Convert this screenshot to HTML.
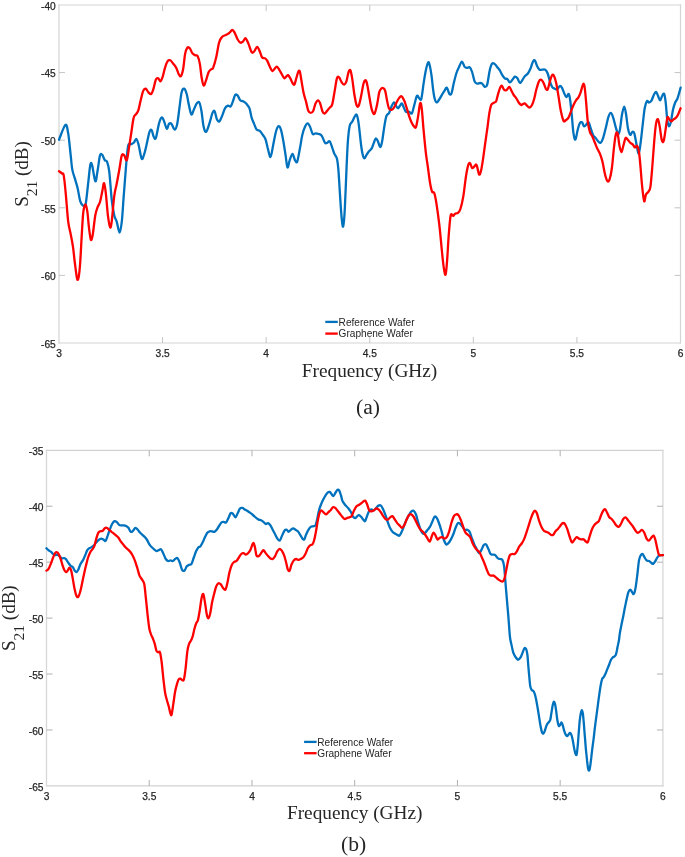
<!DOCTYPE html>
<html><head><meta charset="utf-8"><style>
html,body{margin:0;padding:0;background:#fff;}
body{width:685px;height:857px;overflow:hidden;}
svg{display:block;filter:blur(0.35px);}
.tl{font-family:"Liberation Sans",sans-serif;font-size:10.2px;fill:#262626;stroke:#262626;stroke-width:0.25px;}
.lg{font-family:"Liberation Sans",sans-serif;font-size:10.1px;fill:#262626;}
.ax{font-family:"Liberation Serif",serif;font-size:20px;fill:#262626;}
</style></head><body>
<svg width="685" height="857" viewBox="0 0 685 857">
<path d="M58.4,5H681.1M58.4,343H681.1" fill="none" stroke="#d4d4d4" stroke-width="1.2"/>
<path d="M59,4.4V343.6M680.5,4.4V343.6" fill="none" stroke="#d4d4d4" stroke-width="1.2"/>
<text x="59.00" y="356.8" text-anchor="middle" class="tl">3</text>
<line x1="162.58" y1="343" x2="162.58" y2="337" stroke="#c4c4c4" stroke-width="1"/>
<line x1="162.58" y1="5" x2="162.58" y2="11" stroke="#c4c4c4" stroke-width="1"/>
<text x="162.58" y="356.8" text-anchor="middle" class="tl">3.5</text>
<line x1="266.17" y1="343" x2="266.17" y2="337" stroke="#c4c4c4" stroke-width="1"/>
<line x1="266.17" y1="5" x2="266.17" y2="11" stroke="#c4c4c4" stroke-width="1"/>
<text x="266.17" y="356.8" text-anchor="middle" class="tl">4</text>
<line x1="369.75" y1="343" x2="369.75" y2="337" stroke="#c4c4c4" stroke-width="1"/>
<line x1="369.75" y1="5" x2="369.75" y2="11" stroke="#c4c4c4" stroke-width="1"/>
<text x="369.75" y="356.8" text-anchor="middle" class="tl">4.5</text>
<line x1="473.33" y1="343" x2="473.33" y2="337" stroke="#c4c4c4" stroke-width="1"/>
<line x1="473.33" y1="5" x2="473.33" y2="11" stroke="#c4c4c4" stroke-width="1"/>
<text x="473.33" y="356.8" text-anchor="middle" class="tl">5</text>
<line x1="576.92" y1="343" x2="576.92" y2="337" stroke="#c4c4c4" stroke-width="1"/>
<line x1="576.92" y1="5" x2="576.92" y2="11" stroke="#c4c4c4" stroke-width="1"/>
<text x="576.92" y="356.8" text-anchor="middle" class="tl">5.5</text>
<text x="680.50" y="356.8" text-anchor="middle" class="tl">6</text>
<text x="55.8" y="9.70" text-anchor="end" class="tl">-40</text>
<line x1="59" y1="72.60" x2="65" y2="72.60" stroke="#c4c4c4" stroke-width="1"/>
<line x1="680.5" y1="72.60" x2="674.5" y2="72.60" stroke="#c4c4c4" stroke-width="1"/>
<text x="55.8" y="77.30" text-anchor="end" class="tl">-45</text>
<line x1="59" y1="140.20" x2="65" y2="140.20" stroke="#c4c4c4" stroke-width="1"/>
<line x1="680.5" y1="140.20" x2="674.5" y2="140.20" stroke="#c4c4c4" stroke-width="1"/>
<text x="55.8" y="144.90" text-anchor="end" class="tl">-50</text>
<line x1="59" y1="207.80" x2="65" y2="207.80" stroke="#c4c4c4" stroke-width="1"/>
<line x1="680.5" y1="207.80" x2="674.5" y2="207.80" stroke="#c4c4c4" stroke-width="1"/>
<text x="55.8" y="212.50" text-anchor="end" class="tl">-55</text>
<line x1="59" y1="275.40" x2="65" y2="275.40" stroke="#c4c4c4" stroke-width="1"/>
<line x1="680.5" y1="275.40" x2="674.5" y2="275.40" stroke="#c4c4c4" stroke-width="1"/>
<text x="55.8" y="280.10" text-anchor="end" class="tl">-60</text>
<text x="55.8" y="347.70" text-anchor="end" class="tl">-65</text>
<path d="M59.0,139.7C60.1,137.2 63.9,126.0 65.4,124.9C66.9,123.9 67.3,128.3 68.2,133.4C69.1,138.5 70.0,149.4 70.7,155.4C71.4,161.4 71.5,165.4 72.3,169.6C73.1,173.8 74.6,177.4 75.5,180.6C76.4,183.8 76.9,185.1 77.7,188.5C78.5,191.9 79.3,198.2 80.2,201.1C81.1,204.0 82.4,205.3 83.3,205.8C84.2,206.3 84.8,208.0 85.6,204.3C86.4,200.6 87.3,190.4 88.1,183.8C88.9,177.2 89.6,168.0 90.3,164.9C91.0,161.8 91.4,162.8 92.2,165.5C93.0,168.2 94.4,180.4 95.3,181.3C96.2,182.2 96.7,175.5 97.5,171.2C98.3,166.9 99.2,158.1 100.0,155.4C100.8,152.7 101.4,154.0 102.2,154.8C103.0,155.6 104.0,159.0 104.8,160.2C105.6,161.3 106.3,159.9 107.0,161.7C107.7,163.5 108.4,164.9 109.2,171.2C110.0,177.5 110.9,192.2 111.7,199.5C112.5,206.8 113.4,211.6 114.2,215.3C115.0,219.0 115.8,218.7 116.7,221.6C117.6,224.5 118.8,232.6 119.6,232.6C120.4,232.6 121.1,227.6 121.8,221.6C122.5,215.6 123.0,205.3 123.7,196.4C124.4,187.5 125.2,176.4 125.9,168.0C126.6,159.6 127.3,149.9 128.1,146.0C128.9,142.1 129.7,144.9 130.6,144.4C131.5,143.9 132.8,143.7 133.7,142.8C134.6,141.9 135.5,138.7 136.3,139.0C137.1,139.3 137.6,141.1 138.5,144.4C139.4,147.7 140.7,156.8 141.6,158.6C142.5,160.4 143.0,157.5 143.8,155.4C144.6,153.3 145.4,149.9 146.3,146.0C147.2,142.1 148.6,134.4 149.5,131.8C150.4,129.2 151.0,129.4 151.7,130.2C152.4,131.0 152.9,135.2 153.6,136.5C154.3,137.8 154.9,140.2 155.8,138.1C156.7,136.0 158.0,127.3 158.9,123.9C159.8,120.5 160.7,118.2 161.5,117.6C162.3,117.0 162.8,118.4 163.7,120.2C164.6,122.0 165.9,128.1 166.8,128.7C167.7,129.3 168.2,124.7 169.0,123.9C169.8,123.1 170.6,123.0 171.5,123.9C172.4,124.9 173.8,129.6 174.7,129.6C175.6,129.6 176.4,127.5 177.2,123.9C178.0,120.3 178.7,113.5 179.4,108.2C180.1,103.0 180.8,95.7 181.6,92.4C182.4,89.2 183.2,88.4 184.1,88.7C184.9,89.0 185.9,91.3 186.7,94.0C187.5,96.7 188.1,101.6 188.9,105.0C189.7,108.4 190.5,113.9 191.4,114.5C192.3,115.1 193.3,110.6 194.2,108.8C195.1,107.0 195.8,104.5 196.7,103.5C197.5,102.5 198.5,101.2 199.3,102.5C200.1,103.8 200.8,107.2 201.5,111.3C202.2,115.4 202.9,123.7 203.7,127.1C204.5,130.5 205.3,132.3 206.2,131.8C207.1,131.3 208.2,127.1 209.3,123.9C210.4,120.8 211.6,115.0 212.5,112.9C213.4,110.8 214.0,110.2 214.7,111.3C215.4,112.3 216.1,117.5 216.9,119.2C217.7,120.9 218.6,121.9 219.4,121.4C220.2,120.9 221.1,118.3 222.0,116.1C222.9,113.9 224.1,109.9 225.1,108.2C226.1,106.5 227.1,106.0 228.0,105.7C228.9,105.4 229.7,107.2 230.5,106.6C231.3,106.0 231.9,103.8 232.7,101.9C233.5,100.0 234.4,96.0 235.2,95.0C236.0,94.0 236.9,94.7 237.7,95.6C238.5,96.5 239.3,99.3 240.2,100.3C241.1,101.2 242.1,100.8 243.1,101.3C244.1,101.8 245.1,102.3 246.2,103.5C247.2,104.7 248.5,105.9 249.4,108.2C250.3,110.5 250.8,115.0 251.6,117.6C252.4,120.2 253.3,121.9 254.1,123.9C254.9,125.9 255.7,128.4 256.6,129.6C257.6,130.8 258.8,130.0 259.8,130.9C260.9,131.8 262.0,133.7 262.9,135.0C263.8,136.3 264.6,136.9 265.4,139.0C266.2,141.1 266.8,144.6 267.6,147.6C268.5,150.6 269.6,157.3 270.5,157.0C271.4,156.7 272.2,149.9 273.0,146.0C273.8,142.1 274.7,136.7 275.5,133.4C276.3,130.2 277.1,127.3 278.0,126.5C278.9,125.7 279.8,126.5 280.6,128.7C281.5,130.9 282.3,135.2 283.1,139.7C283.9,144.1 284.9,150.8 285.6,155.4C286.3,160.0 286.8,166.6 287.5,167.4C288.2,168.2 288.9,162.4 289.7,160.2C290.5,157.9 291.6,153.9 292.5,153.9C293.4,153.9 294.2,158.9 295.0,160.2C295.8,161.5 296.4,163.5 297.2,161.7C298.0,159.8 298.9,153.5 299.8,149.1C300.7,144.7 301.4,138.8 302.3,135.0C303.2,131.2 304.2,128.4 305.1,126.5C306.0,124.5 306.8,123.2 307.6,123.3C308.5,123.4 309.4,125.3 310.2,127.1C311.0,128.9 311.8,132.9 312.7,134.0C313.6,135.1 314.5,133.4 315.5,133.4C316.5,133.4 317.6,133.6 318.7,134.0C319.8,134.4 320.8,134.4 321.8,135.9C322.9,137.4 324.1,141.7 325.0,142.8C325.9,144.0 326.4,143.1 327.2,142.8C328.0,142.6 328.9,140.5 329.7,141.3C330.5,142.1 331.4,145.5 332.2,147.6C333.0,149.7 333.6,152.1 334.4,153.9C335.2,155.7 336.2,155.7 336.9,158.6C337.6,161.5 338.0,164.9 338.5,171.2C339.0,177.5 339.6,188.5 340.1,196.4C340.6,204.3 341.2,213.4 341.7,218.4C342.2,223.4 342.7,227.9 343.2,226.3C343.7,224.7 344.3,218.2 344.8,209.0C345.3,199.8 345.9,182.8 346.4,171.2C346.9,159.6 347.4,147.3 348.0,139.7C348.6,132.1 349.1,128.6 349.8,125.5C350.5,122.5 351.5,123.0 352.4,121.4C353.2,119.8 354.2,117.1 354.9,116.1C355.6,115.0 356.2,113.8 356.8,115.1C357.4,116.4 358.0,118.8 358.7,123.9C359.4,129.1 360.5,140.7 361.2,146.0C361.9,151.3 362.3,153.4 362.9,155.5C363.4,157.6 363.9,158.4 364.5,158.3C365.1,158.2 365.8,156.2 366.5,155.0C367.2,153.8 367.9,152.5 368.8,151.4C369.7,150.3 370.9,149.9 371.7,148.4C372.5,146.9 373.2,144.2 373.9,142.6C374.6,140.9 375.1,138.8 375.8,138.5C376.5,138.2 377.1,139.7 377.8,141.1C378.5,142.5 379.4,146.8 380.1,147.0C380.8,147.2 381.2,145.8 381.9,142.6C382.6,139.4 383.4,132.4 384.1,128.0C384.8,123.6 385.5,118.8 386.3,116.3C387.1,113.8 388.4,114.3 389.2,112.7C390.0,111.1 390.6,108.5 391.4,106.8C392.2,105.1 393.2,102.6 393.9,102.4C394.6,102.2 395.1,104.4 395.8,105.4C396.5,106.4 397.3,108.3 398.0,108.3C398.7,108.3 399.4,106.2 400.1,105.4C400.8,104.6 401.4,103.1 402.0,103.5C402.6,103.9 403.1,106.2 403.8,107.6C404.5,109.0 405.1,111.2 406.0,111.9C406.9,112.6 407.9,111.3 408.9,111.6C409.9,111.8 410.9,114.3 411.8,113.4C412.7,112.5 413.1,109.0 414.0,106.1C414.9,103.2 416.0,97.2 416.9,95.9C417.8,94.6 418.4,97.6 419.1,98.1C419.8,98.6 420.6,101.1 421.3,98.8C422.0,96.5 422.8,88.8 423.5,84.2C424.2,79.6 425.0,74.6 425.7,71.1C426.4,67.6 427.3,64.2 427.9,63.0C428.5,61.8 428.7,61.7 429.3,63.8C429.9,65.9 430.9,71.3 431.5,75.4C432.1,79.5 432.5,84.7 433.0,88.6C433.5,92.5 434.1,96.5 434.7,98.8C435.3,101.1 435.9,102.2 436.6,102.4C437.3,102.7 437.9,101.4 438.7,100.3C439.5,99.2 440.6,97.2 441.5,95.6C442.4,94.0 443.5,92.2 444.4,90.9C445.3,89.6 446.1,87.2 446.9,87.7C447.7,88.2 448.6,93.1 449.4,94.0C450.2,94.9 450.9,94.9 451.6,93.1C452.3,91.3 453.0,86.3 453.8,83.0C454.6,79.7 455.5,76.1 456.3,73.5C457.1,70.9 457.9,69.2 458.9,67.2C459.8,65.2 461.1,61.7 462.0,61.6C462.9,61.5 463.7,65.5 464.5,66.6C465.3,67.6 466.1,67.8 467.0,67.9C467.9,68.0 468.8,66.5 469.6,67.2C470.5,67.9 471.3,69.6 472.1,72.0C472.9,74.4 473.8,79.5 474.6,81.4C475.4,83.3 476.2,83.3 477.1,83.6C478.0,83.9 479.1,83.0 480.0,83.0C480.9,83.0 481.4,83.0 482.2,83.6C483.0,84.2 483.9,86.6 484.7,86.8C485.5,87.0 486.4,87.3 487.2,84.6C488.0,81.9 488.9,73.9 489.7,70.4C490.5,66.9 491.3,64.5 492.2,63.5C493.1,62.4 493.9,63.5 494.8,64.1C495.7,64.7 496.5,66.2 497.3,67.2C498.1,68.2 499.0,69.1 499.8,70.4C500.6,71.7 501.5,73.8 502.3,75.1C503.1,76.4 504.0,77.6 504.8,78.3C505.6,79.0 506.5,78.5 507.4,79.2C508.2,79.9 509.1,82.3 509.9,82.4C510.7,82.5 511.6,80.8 512.4,79.8C513.2,78.8 514.1,77.0 514.9,76.7C515.7,76.5 516.5,77.2 517.4,78.3C518.2,79.3 519.1,82.8 520.0,83.0C520.9,83.2 521.7,81.0 522.5,79.8C523.3,78.6 524.1,77.0 525.0,76.0C525.9,75.0 527.0,74.7 527.9,73.5C528.8,72.3 529.6,70.6 530.4,68.8C531.2,67.0 531.9,63.9 532.6,62.5C533.3,61.1 534.0,59.6 534.8,60.3C535.6,61.0 536.5,65.0 537.3,66.6C538.1,68.2 538.7,69.2 539.5,69.7C540.3,70.2 541.0,69.7 542.0,69.7C543.0,69.7 544.2,69.1 545.2,69.7C546.2,70.3 546.9,71.5 547.7,73.5C548.5,75.5 549.2,79.2 549.9,81.4C550.6,83.6 551.3,85.6 552.1,86.8C552.9,88.0 553.8,88.2 554.6,88.6C555.5,89.0 556.4,89.7 557.2,89.3C558.1,88.9 558.9,86.4 559.7,86.1C560.5,85.8 561.2,86.5 561.9,87.7C562.6,88.9 563.4,91.4 564.1,93.0C564.8,94.6 565.5,96.9 566.3,97.1C567.1,97.3 568.1,93.2 568.8,94.0C569.5,94.8 569.9,98.0 570.4,101.9C570.9,105.8 571.5,112.3 572.0,117.6C572.5,122.8 572.9,129.7 573.5,133.4C574.1,137.1 574.7,140.1 575.4,139.6C576.1,139.1 576.9,132.9 577.6,130.2C578.3,127.5 579.1,124.6 579.8,123.3C580.5,122.0 581.3,121.8 582.0,122.3C582.7,122.8 583.4,126.1 584.2,126.4C585.0,126.7 586.1,124.6 586.8,123.9C587.5,123.2 587.9,121.5 588.6,122.3C589.3,123.1 590.1,126.5 590.8,128.6C591.5,130.7 592.2,133.3 593.0,134.9C593.8,136.5 594.8,137.1 595.6,138.1C596.5,139.1 597.3,140.4 598.1,141.2C598.9,142.0 599.8,143.3 600.6,142.8C601.4,142.3 602.3,140.5 603.1,138.1C603.9,135.7 604.8,132.0 605.6,128.6C606.5,125.2 607.4,120.2 608.2,117.6C609.1,115.0 609.9,112.9 610.7,112.9C611.5,112.9 612.4,115.2 613.2,117.6C614.0,120.0 614.9,124.4 615.7,127.1C616.5,129.8 617.5,133.8 618.2,134.0C618.9,134.2 619.5,131.8 620.1,128.6C620.7,125.3 621.3,118.2 622.0,114.5C622.7,110.8 623.5,106.6 624.2,106.6C624.9,106.6 625.5,110.8 626.1,114.5C626.7,118.2 627.3,125.2 628.0,128.6C628.7,132.0 629.5,134.4 630.2,134.9C630.9,135.4 631.7,132.1 632.4,131.8C633.1,131.6 633.6,131.3 634.3,133.4C635.0,135.5 635.8,141.0 636.5,144.4C637.2,147.8 638.0,153.9 638.7,153.6C639.4,153.3 639.9,147.8 640.6,142.8C641.3,137.9 642.1,129.7 642.8,123.9C643.5,118.1 644.0,112.0 644.7,108.2C645.4,104.4 646.2,102.2 646.9,101.2C647.6,100.2 648.3,102.7 649.1,102.5C649.9,102.3 650.8,101.6 651.6,100.3C652.4,99.0 653.1,96.3 653.8,94.9C654.5,93.5 655.3,91.7 656.0,91.8C656.7,91.9 657.2,94.2 657.9,95.6C658.6,97.0 659.4,100.3 660.1,100.3C660.8,100.3 661.6,96.6 662.3,95.6C663.0,94.5 663.6,92.7 664.2,94.0C664.8,95.3 665.3,98.9 665.8,103.4C666.3,107.9 666.8,117.0 667.4,120.8C668.0,124.6 668.6,126.4 669.2,126.4C669.8,126.4 670.5,123.6 671.1,120.8C671.7,118.0 672.3,112.8 673.0,109.7C673.7,106.7 674.5,104.3 675.2,102.5C675.9,100.7 676.7,100.4 677.4,98.7C678.1,97.0 678.8,94.2 679.3,92.4C679.8,90.6 680.4,88.5 680.6,87.7" fill="none" stroke="#0072BD" stroke-width="2.3" stroke-linejoin="round" stroke-linecap="round"/>
<path d="M59.0,171.2C59.5,171.6 61.1,172.6 61.9,173.4C62.7,174.2 63.1,172.1 63.8,175.9C64.5,179.7 65.3,188.8 66.0,196.4C66.7,204.0 67.4,215.3 68.2,221.6C69.0,227.9 69.9,230.0 70.7,234.2C71.5,238.4 72.3,242.1 73.0,246.8C73.7,251.5 74.1,257.2 74.8,262.5C75.5,267.8 76.4,275.8 77.0,278.3C77.6,280.8 78.1,280.2 78.6,277.6C79.1,275.0 79.7,269.7 80.2,262.5C80.7,255.3 81.3,242.6 81.8,234.2C82.3,225.8 82.7,217.1 83.3,212.1C83.9,207.1 84.9,204.3 85.6,204.3C86.3,204.3 86.8,208.2 87.4,212.1C88.0,216.0 88.4,223.3 89.0,227.9C89.6,232.5 90.3,238.8 90.9,239.8C91.5,240.9 92.1,238.3 92.8,234.2C93.5,230.1 94.5,219.8 95.3,215.3C96.1,210.8 96.7,209.6 97.5,207.4C98.3,205.2 99.2,204.6 100.0,202.0C100.8,199.4 101.5,194.8 102.2,191.7C102.9,188.5 103.5,182.6 104.1,183.1C104.7,183.6 105.4,189.4 106.0,194.8C106.6,200.2 107.2,209.9 107.9,215.3C108.6,220.7 109.5,226.1 110.1,227.2C110.7,228.2 111.0,226.7 111.7,221.6C112.4,216.5 113.4,202.7 114.2,196.4C115.0,190.1 115.8,188.5 116.7,183.8C117.6,179.1 118.8,172.7 119.6,168.0C120.4,163.3 121.0,157.5 121.8,155.4C122.6,153.3 123.5,154.6 124.3,155.4C125.1,156.2 126.0,161.5 126.8,160.2C127.6,158.9 128.3,152.1 129.0,147.6C129.7,143.1 130.4,138.4 131.2,133.4C132.0,128.4 132.8,120.8 133.7,117.6C134.5,114.3 135.5,115.2 136.3,113.9C137.1,112.6 137.8,112.1 138.5,109.8C139.2,107.5 139.9,103.4 140.7,100.3C141.5,97.2 142.4,92.8 143.2,90.9C144.0,89.0 144.8,88.5 145.7,88.7C146.6,89.0 147.6,91.5 148.5,92.4C149.4,93.3 150.3,94.5 151.1,94.0C151.9,93.5 152.5,91.7 153.3,89.3C154.1,86.9 155.0,81.6 155.8,79.8C156.6,78.0 157.5,78.0 158.3,78.3C159.1,78.6 159.8,81.7 160.5,81.4C161.2,81.1 161.9,79.1 162.7,76.7C163.5,74.3 164.3,69.8 165.2,67.2C166.0,64.6 167.0,62.0 167.8,60.9C168.7,59.8 169.4,59.9 170.3,60.3C171.2,60.7 172.1,62.2 173.1,63.5C174.1,64.8 175.4,66.1 176.3,67.9C177.2,69.7 178.0,72.8 178.8,74.2C179.6,75.6 180.3,77.0 181.0,76.1C181.7,75.2 182.5,72.5 183.2,68.8C183.9,65.1 184.4,57.5 185.1,54.0C185.8,50.5 186.5,48.7 187.3,47.7C188.1,46.8 189.0,47.4 189.8,48.3C190.6,49.2 191.4,51.9 192.3,53.1C193.2,54.3 194.3,54.8 195.2,55.3C196.1,55.8 196.9,54.7 197.7,56.2C198.5,57.7 199.3,60.7 199.9,64.1C200.5,67.5 200.9,73.1 201.5,76.7C202.1,80.3 202.9,85.0 203.7,85.5C204.5,86.0 205.4,82.0 206.2,79.8C207.0,77.5 207.8,73.8 208.7,72.0C209.6,70.2 211.2,69.5 211.9,68.8C212.6,68.1 212.4,69.7 213.1,67.9C213.8,66.1 215.1,62.0 216.1,57.8C217.1,53.6 218.1,46.0 219.1,42.5C220.1,39.0 220.9,38.2 222.0,37.0C223.1,35.8 224.5,35.6 225.7,35.0C226.8,34.4 227.8,34.1 228.9,33.3C230.0,32.5 231.4,30.1 232.3,30.0C233.2,29.9 233.7,31.0 234.6,32.6C235.5,34.2 236.7,37.8 237.7,39.5C238.7,41.2 239.7,42.4 240.6,42.7C241.5,43.0 242.3,42.1 243.1,41.4C243.9,40.7 244.7,37.9 245.6,38.3C246.5,38.7 247.4,41.3 248.4,43.6C249.4,45.9 250.7,50.8 251.6,52.1C252.5,53.4 253.2,52.4 254.1,51.5C255.0,50.6 256.2,46.8 257.2,46.8C258.1,46.8 259.0,49.8 259.8,51.5C260.6,53.2 261.1,56.1 262.0,57.2C262.9,58.4 264.2,57.8 265.1,58.4C266.0,59.0 266.5,59.5 267.3,60.9C268.1,62.3 269.0,64.9 269.8,66.6C270.6,68.3 271.6,70.6 272.4,71.0C273.2,71.4 273.9,69.5 274.6,68.8C275.3,68.1 276.0,66.4 276.8,66.6C277.6,66.8 278.5,68.5 279.3,69.8C280.1,71.1 281.0,72.8 281.8,74.2C282.6,75.6 283.6,77.9 284.3,78.3C285.0,78.7 285.6,77.2 286.2,76.7C286.8,76.2 287.4,74.8 288.1,75.1C288.8,75.4 289.6,77.0 290.3,78.3C291.0,79.6 291.8,82.0 292.5,83.0C293.2,84.0 293.8,85.4 294.4,84.6C295.0,83.8 295.7,80.4 296.3,78.3C296.9,76.2 297.6,73.2 298.2,72.0C298.8,70.8 299.3,70.0 299.8,71.3C300.3,72.6 300.7,76.3 301.3,79.8C301.9,83.3 302.7,88.7 303.5,92.4C304.3,96.1 305.3,98.9 306.1,101.9C306.9,105.0 307.5,108.9 308.3,110.7C309.1,112.5 310.0,112.9 310.8,112.9C311.6,112.9 312.5,112.3 313.3,110.7C314.1,109.1 314.7,105.2 315.5,103.5C316.3,101.8 317.2,100.3 318.0,100.3C318.8,100.3 319.5,101.7 320.2,103.5C320.9,105.3 321.7,109.6 322.4,111.3C323.1,113.0 323.8,113.6 324.6,113.5C325.4,113.4 326.4,111.7 327.2,110.7C328.0,109.7 328.9,108.6 329.7,107.6C330.5,106.5 331.4,107.2 332.2,104.4C333.0,101.6 333.9,95.2 334.7,90.9C335.5,86.6 336.2,80.6 336.9,78.3C337.6,76.0 338.3,76.6 339.1,77.3C339.9,78.0 340.9,81.2 341.7,82.4C342.5,83.6 343.4,84.8 344.2,84.6C345.0,84.4 345.7,83.5 346.4,81.4C347.1,79.3 347.9,73.8 348.6,72.0C349.3,70.2 349.9,69.1 350.5,70.4C351.1,71.7 351.8,75.9 352.4,79.8C353.0,83.7 353.6,89.8 354.3,94.0C355.0,98.2 355.8,103.0 356.5,105.0C357.2,107.0 357.9,107.3 358.7,105.7C359.5,104.1 360.4,99.4 361.2,95.6C362.0,91.8 362.9,85.5 363.7,83.0C364.5,80.5 365.3,80.0 365.9,80.5C366.5,81.0 366.9,83.1 367.5,86.1C368.1,89.1 369.0,94.8 369.7,98.7C370.4,102.7 371.1,107.3 371.9,109.8C372.7,112.3 373.5,114.7 374.4,113.9C375.2,113.1 376.2,108.6 377.0,105.0C377.8,101.4 378.5,95.2 379.2,92.4C379.9,89.7 380.7,89.2 381.4,88.5C382.1,87.8 382.7,87.8 383.3,88.2C383.9,88.6 384.6,88.9 385.2,90.9C385.8,92.9 386.4,97.4 387.0,100.3C387.6,103.2 388.1,106.6 388.9,108.2C389.6,109.8 390.6,109.9 391.5,109.8C392.4,109.7 393.2,108.8 394.0,107.6C394.8,106.4 395.7,104.1 396.5,102.5C397.3,100.9 398.2,99.1 399.0,98.1C399.8,97.0 400.6,95.8 401.5,96.2C402.4,96.6 403.2,98.4 404.1,100.3C405.0,102.2 405.8,105.0 406.6,107.6C407.4,110.2 408.3,113.6 409.1,116.1C409.9,118.6 410.8,120.7 411.6,122.4C412.4,124.1 413.4,125.7 414.1,126.5C414.8,127.3 415.4,128.6 416.0,127.1C416.6,125.6 417.2,121.5 417.9,117.6C418.6,113.7 419.5,105.1 420.1,103.5C420.7,101.9 421.1,103.8 421.7,108.2C422.3,112.7 422.9,122.8 423.6,130.2C424.3,137.5 425.1,146.0 425.8,152.3C426.5,158.6 427.3,162.8 428.0,168.0C428.7,173.2 429.5,179.9 430.2,183.8C430.9,187.8 431.4,190.1 432.1,191.7C432.8,193.3 433.5,190.8 434.3,193.2C435.1,195.5 436.0,200.6 436.8,205.8C437.6,211.1 438.5,217.9 439.3,224.7C440.1,231.5 440.8,239.7 441.5,246.8C442.2,253.9 443.0,262.6 443.7,267.2C444.4,271.8 445.0,275.8 445.6,274.5C446.2,273.2 446.7,266.1 447.2,259.4C447.7,252.7 448.2,241.5 448.8,234.2C449.4,226.8 450.0,218.4 450.7,215.3C451.4,212.2 452.5,216.2 453.2,215.9C453.9,215.6 454.3,214.2 455.1,213.7C455.9,213.2 457.0,213.6 457.9,212.8C458.8,212.0 459.5,211.7 460.4,209.0C461.3,206.3 462.4,201.7 463.3,196.4C464.2,191.2 465.0,182.8 465.8,177.5C466.6,172.2 467.6,167.3 468.3,164.9C469.0,162.5 469.6,162.8 470.2,163.3C470.8,163.8 471.4,167.5 472.1,168.0C472.8,168.5 473.6,167.0 474.3,166.5C475.0,166.0 475.7,163.6 476.5,164.9C477.3,166.2 478.3,173.2 479.0,174.3C479.7,175.4 480.2,173.8 480.9,171.2C481.6,168.6 482.4,163.4 483.1,158.6C483.8,153.8 484.6,147.7 485.3,142.6C486.0,137.5 486.7,132.9 487.4,128.0C488.1,123.1 488.6,117.3 489.3,113.4C490.0,109.5 490.5,106.4 491.4,104.6C492.3,102.8 493.9,103.0 494.7,102.4C495.5,101.8 495.6,102.8 496.2,101.2C496.8,99.6 497.5,95.6 498.4,93.0C499.2,90.4 500.3,86.2 501.3,85.7C502.3,85.2 503.3,89.2 504.2,89.9C505.1,90.6 505.8,90.4 506.7,89.9C507.6,89.4 508.5,86.6 509.3,86.8C510.1,87.0 510.8,89.5 511.5,90.9C512.2,92.3 512.9,93.8 513.7,95.0C514.5,96.2 515.4,96.8 516.2,98.1C517.0,99.3 517.9,101.3 518.7,102.5C519.5,103.7 520.6,104.7 521.2,105.0C521.8,105.3 521.9,104.7 522.5,104.4C523.1,104.1 524.0,103.2 524.7,103.4C525.4,103.6 526.1,104.9 526.9,105.6C527.7,106.3 528.5,107.6 529.4,107.5C530.2,107.4 531.2,106.5 532.0,105.0C532.8,103.5 533.5,101.3 534.2,98.7C534.9,96.1 535.6,92.2 536.4,89.3C537.2,86.4 538.1,83.0 538.9,81.4C539.7,79.8 540.6,79.5 541.4,79.8C542.2,80.1 542.9,81.5 543.6,83.0C544.3,84.5 545.1,87.5 545.8,88.6C546.5,89.6 547.0,90.5 547.7,89.3C548.4,88.1 549.2,83.8 549.9,81.4C550.6,79.0 551.4,76.0 552.1,75.1C552.8,74.2 553.3,74.7 554.0,76.0C554.7,77.3 555.5,79.7 556.2,83.0C556.9,86.3 557.6,90.9 558.4,95.6C559.2,100.3 560.0,107.1 560.9,111.3C561.8,115.5 562.6,119.3 563.5,120.8C564.4,122.3 565.2,120.6 566.0,120.1C566.8,119.6 567.7,119.1 568.5,117.6C569.3,116.1 570.2,113.4 571.0,111.3C571.8,109.2 572.7,106.8 573.5,105.0C574.3,103.2 575.1,101.6 576.0,100.3C576.9,99.0 577.8,98.5 578.6,97.1C579.4,95.7 580.1,93.9 580.8,91.8C581.5,89.7 582.4,85.5 583.0,84.5C583.6,83.5 584.0,83.2 584.5,86.1C585.0,89.0 585.6,96.1 586.1,101.9C586.6,107.7 587.1,115.8 587.7,120.8C588.3,125.8 589.1,129.2 589.9,131.8C590.7,134.4 591.6,134.7 592.4,136.5C593.2,138.3 594.0,140.7 594.9,142.8C595.8,144.9 596.6,147.3 597.5,149.1C598.4,150.9 599.2,151.7 600.0,153.8C600.8,155.9 601.7,158.3 602.5,161.7C603.3,165.1 604.2,171.1 605.0,174.3C605.8,177.6 606.7,180.4 607.5,181.2C608.3,182.0 609.0,181.2 609.7,179.0C610.4,176.8 611.2,173.0 611.9,168.0C612.6,163.0 613.2,154.6 613.8,149.1C614.4,143.6 615.1,137.5 615.7,134.9C616.3,132.3 617.0,131.6 617.6,133.4C618.2,135.2 618.9,142.8 619.5,145.9C620.1,149.0 620.8,152.2 621.4,152.2C622.0,152.2 622.6,148.2 623.3,145.9C624.0,143.6 624.8,139.2 625.5,138.1C626.2,137.0 626.9,138.8 627.7,139.6C628.5,140.4 629.4,142.0 630.2,142.8C631.0,143.6 631.9,143.6 632.7,144.4C633.5,145.2 634.2,147.2 634.9,147.5C635.6,147.8 636.4,145.1 637.1,145.9C637.8,146.7 638.4,148.5 639.0,152.2C639.6,155.9 640.1,162.2 640.6,168.0C641.1,173.8 641.6,181.4 642.2,186.9C642.8,192.4 643.6,199.9 644.2,201.2C644.8,202.5 645.2,196.4 645.9,194.8C646.6,193.2 647.8,192.9 648.5,191.6C649.2,190.3 649.8,190.8 650.4,186.9C651.0,183.0 651.6,175.3 652.2,168.0C652.8,160.7 653.5,150.2 654.1,142.8C654.7,135.5 655.4,127.8 656.0,123.9C656.6,120.0 657.3,118.7 657.9,119.2C658.5,119.7 659.2,123.7 659.8,127.1C660.4,130.5 661.1,137.2 661.7,139.6C662.3,141.9 663.0,142.8 663.6,141.2C664.2,139.6 664.9,134.1 665.5,130.2C666.1,126.3 666.8,119.4 667.4,117.6C668.0,115.8 668.6,118.6 669.2,119.2C669.8,119.8 670.4,121.4 671.1,121.4C671.9,121.4 672.9,119.8 673.7,119.2C674.6,118.6 675.5,118.4 676.2,117.6C676.9,116.8 677.4,116.1 678.1,114.5C678.8,112.9 680.2,109.2 680.6,108.2" fill="none" stroke="#FF0000" stroke-width="2.3" stroke-linejoin="round" stroke-linecap="round"/>
<line x1="325.3" y1="321.9" x2="337.8" y2="321.9" stroke="#0072BD" stroke-width="2.3"/>
<line x1="325.3" y1="333.6" x2="337.8" y2="333.6" stroke="#FF0000" stroke-width="2.3"/>
<text x="338.6" y="325.80" class="lg">Reference Wafer</text>
<text x="338.6" y="337.20" class="lg">Graphene Wafer</text>
<text x="369.55" y="376.8" text-anchor="middle" class="ax" style="font-size:19.3px">Frequency (GHz)</text>
<text x="368" y="414.1" text-anchor="middle" class="ax" style="font-size:21.6px">(a)</text>
<text transform="translate(27.8,174) rotate(-90)" text-anchor="middle" class="ax" style="font-size:19px">S<tspan style="font-size:15.5px" dy="9">21</tspan><tspan dy="-9"> (dB)</tspan></text>
<path d="M45.85,450.3H663.55M45.85,785.9H663.55" fill="none" stroke="#c6c6c6" stroke-width="1.0"/>
<path d="M46.5,449.8V786.4M662.9,449.8V786.4" fill="none" stroke="#d8d8d8" stroke-width="1.3"/>
<text x="46.50" y="800.2" text-anchor="middle" class="tl">3</text>
<line x1="149.23" y1="785.9" x2="149.23" y2="779.9" stroke="#b0b0b0" stroke-width="1"/>
<line x1="149.23" y1="450.3" x2="149.23" y2="456.3" stroke="#b0b0b0" stroke-width="1"/>
<text x="149.23" y="800.2" text-anchor="middle" class="tl">3.5</text>
<line x1="251.97" y1="785.9" x2="251.97" y2="779.9" stroke="#b0b0b0" stroke-width="1"/>
<line x1="251.97" y1="450.3" x2="251.97" y2="456.3" stroke="#b0b0b0" stroke-width="1"/>
<text x="251.97" y="800.2" text-anchor="middle" class="tl">4</text>
<line x1="354.70" y1="785.9" x2="354.70" y2="779.9" stroke="#b0b0b0" stroke-width="1"/>
<line x1="354.70" y1="450.3" x2="354.70" y2="456.3" stroke="#b0b0b0" stroke-width="1"/>
<text x="354.70" y="800.2" text-anchor="middle" class="tl">4.5</text>
<line x1="457.43" y1="785.9" x2="457.43" y2="779.9" stroke="#b0b0b0" stroke-width="1"/>
<line x1="457.43" y1="450.3" x2="457.43" y2="456.3" stroke="#b0b0b0" stroke-width="1"/>
<text x="457.43" y="800.2" text-anchor="middle" class="tl">5</text>
<line x1="560.17" y1="785.9" x2="560.17" y2="779.9" stroke="#b0b0b0" stroke-width="1"/>
<line x1="560.17" y1="450.3" x2="560.17" y2="456.3" stroke="#b0b0b0" stroke-width="1"/>
<text x="560.17" y="800.2" text-anchor="middle" class="tl">5.5</text>
<text x="662.90" y="800.2" text-anchor="middle" class="tl">6</text>
<text x="43.5" y="455.00" text-anchor="end" class="tl">-35</text>
<line x1="46.5" y1="506.23" x2="52.5" y2="506.23" stroke="#b0b0b0" stroke-width="1"/>
<line x1="662.9" y1="506.23" x2="656.9" y2="506.23" stroke="#b0b0b0" stroke-width="1"/>
<text x="43.5" y="510.93" text-anchor="end" class="tl">-40</text>
<line x1="46.5" y1="562.17" x2="52.5" y2="562.17" stroke="#b0b0b0" stroke-width="1"/>
<line x1="662.9" y1="562.17" x2="656.9" y2="562.17" stroke="#b0b0b0" stroke-width="1"/>
<text x="43.5" y="566.87" text-anchor="end" class="tl">-45</text>
<line x1="46.5" y1="618.10" x2="52.5" y2="618.10" stroke="#b0b0b0" stroke-width="1"/>
<line x1="662.9" y1="618.10" x2="656.9" y2="618.10" stroke="#b0b0b0" stroke-width="1"/>
<text x="43.5" y="622.80" text-anchor="end" class="tl">-50</text>
<line x1="46.5" y1="674.03" x2="52.5" y2="674.03" stroke="#b0b0b0" stroke-width="1"/>
<line x1="662.9" y1="674.03" x2="656.9" y2="674.03" stroke="#b0b0b0" stroke-width="1"/>
<text x="43.5" y="678.73" text-anchor="end" class="tl">-55</text>
<line x1="46.5" y1="729.97" x2="52.5" y2="729.97" stroke="#b0b0b0" stroke-width="1"/>
<line x1="662.9" y1="729.97" x2="656.9" y2="729.97" stroke="#b0b0b0" stroke-width="1"/>
<text x="43.5" y="734.67" text-anchor="end" class="tl">-60</text>
<text x="43.5" y="790.60" text-anchor="end" class="tl">-65</text>
<path d="M46.4,548.2C46.7,548.5 47.7,549.6 48.4,550.2C49.1,550.8 50.0,551.1 50.8,551.7C51.6,552.3 52.4,553.4 53.1,554.0C53.8,554.6 54.4,555.1 55.1,555.2C55.8,555.3 56.5,554.5 57.2,554.6C57.9,554.8 58.7,555.5 59.5,556.1C60.3,556.7 61.2,558.1 61.9,558.4C62.6,558.7 63.2,558.0 63.9,558.1C64.6,558.2 65.2,558.2 65.9,559.0C66.6,559.8 67.5,561.7 68.3,562.8C69.1,563.9 69.9,565.0 70.6,565.7C71.3,566.4 72.0,566.3 72.7,567.1C73.4,567.9 74.1,569.8 74.7,570.6C75.3,571.4 75.9,572.3 76.5,572.1C77.1,571.9 77.8,570.6 78.5,569.2C79.2,567.8 79.8,565.4 80.5,563.9C81.2,562.4 82.1,561.8 82.9,560.4C83.7,559.0 84.5,556.9 85.2,555.2C85.9,553.5 86.6,551.4 87.3,550.2C88.0,549.0 88.6,548.7 89.3,548.2C90.0,547.7 90.8,547.8 91.6,547.3C92.4,546.8 93.2,546.1 94.0,545.3C94.8,544.5 95.5,543.2 96.3,542.3C97.1,541.4 97.8,540.6 98.6,540.0C99.4,539.4 100.2,538.7 101.0,538.6C101.8,538.5 102.5,539.0 103.3,539.4C104.1,539.8 104.9,541.5 105.6,540.9C106.3,540.3 107.0,537.5 107.7,535.6C108.4,533.8 109.0,531.7 109.7,529.8C110.4,527.9 111.3,525.5 112.1,524.0C112.9,522.5 113.6,521.5 114.4,521.1C115.2,520.8 115.9,521.3 116.7,521.9C117.5,522.5 118.3,524.2 119.1,524.8C119.9,525.4 120.6,525.3 121.4,525.4C122.2,525.5 123.0,525.3 123.8,525.4C124.6,525.5 125.3,525.6 126.1,526.0C126.9,526.4 127.6,526.8 128.4,527.8C129.2,528.8 130.0,531.3 130.8,531.8C131.6,532.3 132.3,531.4 133.1,530.7C133.9,530.0 134.6,527.9 135.4,527.8C136.2,527.6 137.0,529.0 137.8,529.8C138.6,530.6 139.3,531.9 140.1,532.7C140.9,533.5 141.6,534.1 142.4,534.8C143.2,535.5 144.0,536.2 144.8,537.1C145.6,538.0 146.3,538.8 147.1,540.0C147.9,541.2 148.6,543.2 149.4,544.4C150.2,545.6 151.0,546.5 151.8,547.3C152.6,548.1 153.3,548.7 154.1,549.3C154.9,549.9 155.7,551.0 156.5,551.1C157.3,551.2 158.0,550.5 158.8,550.2C159.6,549.9 160.3,548.7 161.1,549.3C161.9,549.9 162.7,552.4 163.5,554.0C164.3,555.6 165.0,557.8 165.8,559.0C166.6,560.2 167.3,560.8 168.1,561.0C168.9,561.2 169.7,560.4 170.5,560.4C171.3,560.4 172.0,561.2 172.8,561.0C173.6,560.8 174.3,559.5 175.1,559.0C175.9,558.5 176.7,557.5 177.5,558.1C178.3,558.7 179.0,560.8 179.8,562.8C180.6,564.8 181.3,568.5 182.1,569.8C182.9,571.1 183.7,571.2 184.5,570.6C185.3,570.0 186.0,567.3 186.8,566.3C187.6,565.3 188.4,565.2 189.2,564.8C190.0,564.4 190.7,565.1 191.5,563.9C192.3,562.7 193.0,559.6 193.8,557.5C194.6,555.4 195.4,552.8 196.2,551.1C197.0,549.4 197.8,548.1 198.5,547.3C199.2,546.5 199.6,547.2 200.3,546.4C201.0,545.6 201.9,543.8 202.7,542.3C203.5,540.8 204.2,538.7 205.0,537.1C205.8,535.5 206.5,533.7 207.3,532.7C208.1,531.7 208.9,531.5 209.7,531.3C210.5,531.1 211.2,531.2 212.0,531.3C212.8,531.4 213.6,532.0 214.4,531.8C215.2,531.5 215.9,530.8 216.7,529.8C217.5,528.8 218.2,527.2 219.0,526.0C219.8,524.8 220.6,523.2 221.4,522.5C222.2,521.8 222.9,521.9 223.7,521.9C224.5,521.9 225.2,523.1 226.0,522.5C226.8,521.9 227.6,519.6 228.4,518.1C229.2,516.6 229.9,513.9 230.7,513.2C231.5,512.5 232.2,513.1 233.0,513.8C233.8,514.5 234.6,517.4 235.4,517.3C236.2,517.2 236.9,514.7 237.7,513.2C238.5,511.7 239.2,509.4 240.0,508.5C240.8,507.6 241.6,507.8 242.4,507.9C243.2,508.0 243.9,508.9 244.7,509.4C245.5,509.9 246.3,510.3 247.1,510.8C247.9,511.3 248.6,511.8 249.4,512.3C250.2,512.8 250.9,513.2 251.7,513.8C252.5,514.4 253.3,515.4 254.1,516.1C254.9,516.8 255.6,517.5 256.4,518.1C257.2,518.7 257.9,519.2 258.7,519.6C259.5,520.0 260.3,519.8 261.1,520.2C261.9,520.6 262.6,521.3 263.4,521.9C264.2,522.5 264.9,523.8 265.7,524.0C266.5,524.2 267.3,522.9 268.1,523.1C268.9,523.3 269.6,524.3 270.4,525.4C271.2,526.5 271.9,528.3 272.7,529.8C273.5,531.3 274.3,532.7 275.1,534.2C275.9,535.7 276.6,537.5 277.4,538.6C278.2,539.7 279.0,541.1 279.8,540.6C280.6,540.1 281.3,537.2 282.1,535.6C282.9,534.0 283.6,531.7 284.4,530.7C285.2,529.7 286.1,529.6 286.8,529.8C287.5,530.0 287.8,531.8 288.5,531.8C289.2,531.8 290.0,530.4 290.8,529.8C291.6,529.2 292.4,528.3 293.2,528.3C294.0,528.3 294.7,529.3 295.5,529.8C296.3,530.3 297.1,530.5 297.9,531.3C298.7,532.1 299.4,533.6 300.2,534.8C301.0,536.0 301.8,537.8 302.5,538.6C303.2,539.4 303.7,540.0 304.3,539.4C304.9,538.8 305.3,536.4 306.0,534.8C306.7,533.2 307.6,531.1 308.4,529.8C309.2,528.5 309.9,527.5 310.7,526.9C311.5,526.3 312.2,526.5 313.0,526.3C313.8,526.0 314.7,526.5 315.4,525.4C316.1,524.3 316.5,522.0 317.1,519.6C317.7,517.2 318.3,513.1 318.9,510.8C319.5,508.4 319.9,507.3 320.6,505.5C321.3,503.7 322.2,501.6 323.0,500.0C323.8,498.4 324.5,497.0 325.3,495.8C326.1,494.6 326.9,493.2 327.6,492.6C328.3,492.0 329.0,491.7 329.6,491.9C330.2,492.1 330.9,493.3 331.5,494.0C332.1,494.7 332.7,496.2 333.4,496.0C334.1,495.8 334.9,493.5 335.6,492.5C336.3,491.5 336.9,490.1 337.5,489.8C338.1,489.5 338.6,489.6 339.2,490.5C339.8,491.4 340.4,493.8 341.0,495.5C341.6,497.2 341.8,499.3 342.5,500.9C343.2,502.4 344.1,503.6 345.0,504.8C345.9,506.0 347.1,506.8 348.1,508.0C349.1,509.2 350.1,510.6 350.9,512.0C351.7,513.5 352.2,515.7 352.9,516.7C353.6,517.7 354.5,518.0 355.1,518.1C355.7,518.2 355.7,517.8 356.3,517.3C356.9,516.8 357.9,515.3 358.7,515.2C359.5,515.1 360.2,516.0 361.0,516.7C361.8,517.4 362.6,518.9 363.3,519.6C364.0,520.3 364.5,521.6 365.1,521.1C365.7,520.6 366.1,518.4 366.8,516.7C367.5,515.0 368.4,512.0 369.2,510.8C370.0,509.6 370.7,509.5 371.5,509.4C372.3,509.3 373.1,510.6 373.9,510.3C374.7,510.1 375.4,508.7 376.2,507.9C377.0,507.1 377.7,506.0 378.5,505.6C379.3,505.2 380.1,505.0 380.9,505.6C381.7,506.2 382.4,507.8 383.2,509.4C384.0,511.0 384.7,513.0 385.5,515.2C386.3,517.4 387.1,520.3 387.9,522.5C388.7,524.7 389.4,526.8 390.2,528.3C391.0,529.8 391.7,530.9 392.5,531.8C393.3,532.7 394.1,533.1 394.9,533.6C395.7,534.1 396.4,534.5 397.2,534.8C398.0,535.1 398.7,536.2 399.5,535.6C400.3,535.0 401.1,533.0 401.9,531.3C402.7,529.6 403.4,527.3 404.2,525.4C405.0,523.5 405.8,521.3 406.6,519.6C407.4,517.9 408.1,516.5 408.9,515.2C409.7,513.9 410.4,512.4 411.2,511.7C412.0,511.0 412.8,510.4 413.6,510.8C414.4,511.2 415.1,512.3 415.9,514.3C416.7,516.2 417.4,519.9 418.2,522.5C419.0,525.1 419.8,527.9 420.6,529.8C421.4,531.6 422.1,533.1 422.9,533.6C423.7,534.1 424.4,533.3 425.2,532.7C426.0,532.1 426.8,530.8 427.6,529.8C428.4,528.8 429.1,528.2 429.9,526.9C430.7,525.6 431.4,523.6 432.2,521.9C433.0,520.2 433.8,517.3 434.6,516.7C435.4,516.1 436.1,516.9 436.9,518.1C437.7,519.3 438.5,521.8 439.3,524.0C440.1,526.2 440.8,528.6 441.6,531.3C442.4,534.0 443.1,537.8 443.9,540.0C444.7,542.2 445.5,543.9 446.3,544.4C447.1,544.9 447.8,543.7 448.6,542.9C449.4,542.1 450.1,540.8 450.9,539.4C451.7,538.0 452.5,536.1 453.3,534.2C454.1,532.3 454.8,529.6 455.6,527.8C456.4,525.9 457.1,523.7 457.9,523.1C458.7,522.5 459.5,523.4 460.3,524.0C461.1,524.6 461.8,525.9 462.6,526.9C463.4,527.9 464.1,529.3 464.9,529.8C465.7,530.3 466.5,529.5 467.3,529.8C468.1,530.1 468.8,530.3 469.6,531.8C470.4,533.3 471.2,536.5 472.0,538.6C472.8,540.7 473.5,542.7 474.3,544.4C475.1,546.1 475.8,547.3 476.6,548.8C477.4,550.2 478.2,552.9 479.0,553.1C479.8,553.3 480.5,551.5 481.3,550.2C482.1,548.9 482.8,546.3 483.6,545.3C484.4,544.3 485.2,543.8 486.0,544.4C486.8,545.0 487.5,547.2 488.3,548.8C489.1,550.4 489.8,553.0 490.6,554.0C491.4,555.0 492.2,554.4 493.0,554.6C493.8,554.8 494.5,554.6 495.3,555.2C496.1,555.8 496.8,557.5 497.6,558.1C498.4,558.7 499.2,558.7 500.0,559.0C500.8,559.3 501.6,558.6 502.3,559.8C503.0,561.0 503.5,561.8 504.1,566.3C504.7,570.8 505.1,578.4 505.8,586.7C506.5,595.0 507.6,607.6 508.3,615.9C509.0,624.2 509.4,631.7 509.9,636.3C510.4,640.9 510.6,640.8 511.2,643.5C511.8,646.2 512.5,650.1 513.2,652.3C513.9,654.5 514.7,655.5 515.3,656.6C515.9,657.7 516.5,658.4 517.0,658.9C517.5,659.4 517.9,660.0 518.6,659.6C519.3,659.2 520.3,657.8 521.0,656.6C521.7,655.4 522.2,653.7 522.7,652.3C523.2,650.9 523.8,649.0 524.3,648.4C524.8,647.8 525.5,647.9 526.0,648.8C526.5,649.7 526.9,651.4 527.3,654.0C527.7,656.6 527.9,660.7 528.2,664.5C528.5,668.3 528.9,673.1 529.3,676.8C529.6,680.4 529.9,684.2 530.3,686.4C530.7,688.6 531.2,689.1 531.7,689.9C532.2,690.7 533.0,690.5 533.5,691.2C534.0,691.9 534.4,692.8 534.9,694.3C535.4,695.8 535.8,698.1 536.3,700.4C536.8,702.7 537.2,705.5 537.7,708.3C538.2,711.1 538.6,714.2 539.1,717.1C539.6,720.0 540.0,723.3 540.5,725.8C541.0,728.3 541.4,730.7 541.9,732.0C542.4,733.3 542.8,733.9 543.3,733.7C543.8,733.6 544.2,732.3 544.7,731.1C545.2,729.9 545.6,727.9 546.1,726.7C546.6,725.5 547.0,724.5 547.5,723.7C548.0,722.9 548.4,722.7 548.9,722.0C549.4,721.3 549.9,721.1 550.3,719.7C550.7,718.3 550.9,715.9 551.3,713.6C551.7,711.3 552.2,707.7 552.6,705.7C553.0,703.7 553.4,701.9 553.8,701.7C554.2,701.6 554.8,703.1 555.2,704.8C555.6,706.5 555.9,709.3 556.3,711.8C556.6,714.3 556.9,717.4 557.3,719.7C557.7,722.0 558.2,724.9 558.7,725.8C559.2,726.7 559.6,725.6 560.1,725.0C560.6,724.4 561.0,722.2 561.5,722.3C562.0,722.4 562.4,724.3 562.9,725.8C563.4,727.3 563.8,729.6 564.3,731.1C564.8,732.6 565.2,733.8 565.7,734.6C566.2,735.4 566.6,736.0 567.1,736.0C567.6,736.0 568.0,735.1 568.5,734.6C569.0,734.1 569.4,732.9 569.9,732.9C570.4,732.9 570.8,733.4 571.3,734.6C571.8,735.8 572.3,737.9 572.7,739.9C573.1,741.9 573.5,744.7 573.9,746.9C574.3,749.1 574.8,751.7 575.2,753.0C575.7,754.3 576.2,755.8 576.6,754.8C577.0,753.8 577.2,750.5 577.6,746.9C578.0,743.2 578.4,737.3 578.7,732.9C579.1,728.5 579.4,723.8 579.7,720.6C580.1,717.4 580.4,715.4 580.8,713.6C581.1,711.9 581.4,710.1 581.8,710.1C582.1,710.1 582.5,711.3 582.9,713.6C583.2,715.9 583.5,720.0 583.9,724.1C584.2,728.2 584.6,733.7 585.0,738.1C585.4,742.5 585.6,746.6 586.0,750.4C586.4,754.2 586.8,757.8 587.1,760.9C587.5,764.0 587.8,767.2 588.1,768.8C588.5,770.4 588.9,771.0 589.2,770.5C589.6,770.0 589.9,768.3 590.2,766.1C590.6,763.9 590.9,760.3 591.3,757.4C591.6,754.5 591.9,751.8 592.3,748.6C592.7,745.4 593.2,741.9 593.7,738.1C594.2,734.3 594.6,729.6 595.1,725.8C595.6,722.0 596.0,718.8 596.5,715.3C597.0,711.8 597.4,708.3 597.9,704.8C598.4,701.3 598.8,697.6 599.3,694.3C599.8,690.9 600.3,687.3 600.8,684.7C601.3,682.1 601.7,680.2 602.2,678.9C602.7,677.6 603.3,677.7 603.9,676.8C604.5,675.9 605.1,674.6 605.7,673.3C606.3,672.0 606.8,670.4 607.4,668.9C608.0,667.4 608.6,666.0 609.2,664.5C609.8,663.0 610.3,661.3 610.9,660.1C611.5,658.9 612.1,658.1 612.7,657.5C613.3,656.9 613.9,657.0 614.4,656.6C614.9,656.2 615.4,655.9 615.8,654.9C616.2,653.9 616.5,652.1 616.9,650.5C617.2,648.9 617.5,647.0 617.9,645.3C618.2,643.5 618.7,642.0 619.0,640.0C619.3,638.0 619.4,636.0 619.8,633.4C620.2,630.8 620.9,627.5 621.5,624.6C622.1,621.7 622.7,618.8 623.3,615.9C623.9,613.0 624.4,610.0 625.0,607.1C625.6,604.2 626.2,600.9 626.8,598.4C627.4,595.9 627.9,593.4 628.5,591.9C629.1,590.4 629.7,589.6 630.3,589.6C630.9,589.6 631.4,591.2 632.0,591.9C632.6,592.6 633.2,594.6 633.8,594.0C634.4,593.4 634.9,591.3 635.5,588.1C636.1,584.9 636.7,579.6 637.3,575.0C637.9,570.4 638.4,563.7 639.0,560.4C639.6,557.1 640.2,556.3 640.8,555.2C641.4,554.1 642.0,553.7 642.6,554.0C643.2,554.3 643.6,555.8 644.3,556.9C645.0,558.0 645.8,559.7 646.6,560.4C647.4,561.1 648.2,560.6 649.0,561.0C649.8,561.4 650.6,562.3 651.3,562.8C652.0,563.3 652.4,564.2 653.1,563.9C653.8,563.6 654.6,562.2 655.4,561.0C656.2,559.8 656.9,557.9 657.7,556.9C658.5,555.9 659.2,555.5 660.1,555.2C661.0,554.9 662.5,555.2 663.0,555.2" fill="none" stroke="#0072BD" stroke-width="2.3" stroke-linejoin="round" stroke-linecap="round"/>
<path d="M46.4,570.6C46.7,570.4 47.7,570.3 48.4,569.2C49.1,568.1 50.0,565.9 50.8,563.9C51.6,561.9 52.4,559.3 53.1,557.5C53.8,555.7 54.4,554.0 55.1,553.1C55.8,552.2 56.6,552.0 57.2,552.3C57.8,552.5 58.3,553.5 58.9,554.6C59.5,555.7 60.1,557.3 60.7,559.0C61.3,560.7 61.8,563.0 62.4,564.8C63.0,566.6 63.6,568.6 64.2,569.8C64.8,571.0 65.3,572.0 65.9,572.1C66.5,572.2 67.1,571.3 67.7,570.6C68.3,569.9 68.8,567.7 69.4,567.7C70.0,567.7 70.6,568.7 71.2,570.6C71.8,572.5 72.3,576.2 72.9,579.4C73.5,582.6 74.1,586.8 74.7,589.6C75.3,592.4 75.9,594.8 76.5,596.0C77.1,597.2 77.6,597.5 78.2,596.9C78.8,596.3 79.4,594.5 80.0,592.5C80.6,590.5 81.1,587.9 81.7,585.2C82.3,582.5 82.8,579.6 83.5,576.5C84.2,573.4 85.0,569.5 85.8,566.3C86.6,563.1 87.3,559.9 88.1,557.5C88.9,555.1 89.7,553.2 90.5,551.7C91.3,550.2 92.1,549.9 92.8,548.8C93.5,547.7 94.0,547.0 94.6,545.3C95.2,543.6 95.7,540.7 96.3,538.6C96.9,536.5 97.7,533.9 98.4,532.7C99.1,531.5 99.7,531.6 100.4,531.3C101.1,531.0 102.0,531.2 102.7,530.7C103.4,530.2 104.1,528.8 104.8,528.3C105.5,527.8 106.1,527.5 106.8,527.8C107.5,528.0 108.4,529.1 109.2,529.8C110.0,530.5 110.7,531.2 111.5,531.8C112.3,532.4 113.0,533.0 113.8,533.6C114.6,534.2 115.4,534.9 116.2,535.6C117.0,536.3 117.7,536.7 118.5,537.7C119.3,538.7 120.0,540.4 120.8,541.5C121.6,542.6 122.4,543.4 123.2,544.4C124.0,545.4 124.7,546.5 125.5,547.3C126.3,548.1 127.0,548.6 127.8,549.3C128.6,550.0 129.4,550.7 130.2,551.7C131.0,552.7 131.7,553.8 132.5,555.2C133.3,556.7 134.0,558.3 134.8,560.4C135.6,562.5 136.4,565.2 137.2,567.7C138.0,570.2 138.7,573.7 139.5,575.6C140.3,577.5 141.1,578.0 141.9,579.4C142.7,580.8 143.5,580.6 144.2,583.8C144.9,587.0 145.3,593.0 145.9,598.4C146.5,603.8 147.1,610.8 147.7,615.9C148.3,621.0 148.8,625.9 149.4,629.0C150.0,632.1 150.6,633.2 151.2,634.8C151.8,636.4 152.3,637.1 152.9,638.6C153.5,640.1 154.1,641.6 154.7,643.6C155.3,645.6 155.9,649.5 156.5,650.9C157.1,652.3 157.6,652.1 158.2,652.3C158.8,652.5 159.4,650.6 160.0,652.3C160.6,654.0 161.1,657.9 161.7,662.5C162.3,667.1 162.9,674.9 163.5,680.0C164.1,685.1 164.6,689.8 165.2,693.2C165.8,696.6 166.4,698.3 167.0,700.5C167.6,702.7 168.1,704.1 168.7,706.3C169.3,708.5 170.0,712.2 170.5,713.6C171.0,715.0 171.1,716.2 171.6,714.5C172.1,712.8 172.8,707.2 173.4,703.4C174.0,699.6 174.5,694.9 175.1,691.7C175.7,688.5 176.3,686.4 176.9,684.4C177.5,682.4 178.0,680.5 178.6,679.5C179.2,678.5 179.8,678.5 180.4,678.6C181.0,678.7 181.5,679.9 182.1,680.0C182.7,680.1 183.3,681.4 183.9,679.5C184.5,677.6 185.0,673.2 185.6,668.4C186.2,663.6 186.8,655.0 187.4,650.9C188.0,646.8 188.6,645.3 189.2,643.6C189.8,641.9 190.3,641.9 190.9,640.7C191.5,639.5 192.1,638.2 192.7,636.3C193.3,634.3 193.8,631.2 194.4,629.0C195.0,626.8 195.6,624.7 196.2,623.2C196.8,621.7 197.3,622.4 197.9,620.2C198.5,618.0 199.2,613.6 199.8,610.0C200.4,606.4 200.9,601.1 201.5,598.4C202.1,595.7 202.7,593.3 203.3,594.0C203.9,594.7 204.4,599.3 205.0,602.7C205.6,606.1 206.2,611.8 206.8,614.4C207.4,617.0 207.9,618.5 208.5,618.2C209.1,618.0 209.7,615.5 210.3,612.9C210.9,610.3 211.4,605.9 212.0,602.7C212.6,599.6 213.4,596.7 214.1,594.0C214.8,591.3 215.4,588.5 216.1,586.7C216.8,584.9 217.6,583.6 218.4,583.2C219.2,582.8 220.0,583.6 220.8,584.4C221.6,585.2 222.3,587.2 223.1,588.1C223.9,589.0 224.7,590.3 225.4,589.6C226.1,588.9 226.5,586.7 227.2,583.8C227.9,580.9 228.7,575.3 229.5,572.1C230.3,568.9 231.1,566.5 231.9,564.8C232.7,563.1 233.4,562.5 234.2,561.9C235.0,561.3 235.7,561.7 236.5,561.0C237.3,560.3 238.1,558.7 238.9,557.5C239.7,556.3 240.4,554.7 241.2,554.0C242.0,553.3 242.7,553.0 243.5,553.1C244.3,553.2 245.1,554.6 245.9,554.6C246.7,554.6 247.4,554.0 248.2,553.1C249.0,552.2 249.8,551.2 250.6,549.5C251.4,547.8 252.5,543.3 253.2,543.0C253.9,542.7 254.5,545.5 255.0,547.5C255.5,549.5 255.8,553.8 256.4,555.2C257.0,556.6 257.9,556.5 258.7,556.1C259.5,555.8 260.3,554.1 261.1,553.1C261.9,552.1 262.6,550.2 263.4,550.2C264.2,550.2 264.9,552.1 265.7,553.1C266.5,554.1 267.3,555.2 268.1,556.1C268.9,557.0 269.6,557.9 270.4,558.4C271.2,558.9 271.9,559.4 272.7,559.0C273.5,558.6 274.3,557.4 275.1,556.1C275.9,554.8 276.6,552.3 277.4,551.1C278.2,549.9 279.0,548.8 279.8,548.8C280.6,548.8 281.3,549.9 282.1,551.1C282.9,552.3 283.7,554.2 284.4,556.1C285.1,558.0 285.6,560.5 286.2,562.8C286.8,565.1 287.3,568.5 287.9,569.8C288.5,571.1 289.1,571.4 289.7,570.6C290.3,569.8 290.7,566.5 291.4,564.8C292.1,563.1 293.0,561.4 293.8,560.4C294.6,559.4 295.3,559.1 296.1,559.0C296.9,558.9 297.6,559.8 298.4,559.8C299.2,559.8 300.0,559.4 300.8,559.0C301.6,558.6 302.3,558.3 303.1,557.5C303.9,556.7 304.6,555.5 305.4,554.0C306.2,552.5 307.0,549.7 307.8,548.2C308.6,546.8 309.3,545.9 310.1,545.3C310.9,544.7 311.8,545.3 312.5,544.4C313.2,543.5 313.6,542.2 314.2,540.0C314.8,537.8 315.4,534.4 316.0,531.3C316.6,528.1 317.1,524.1 317.7,521.1C318.3,518.1 318.9,515.0 319.5,513.2C320.1,511.4 320.5,510.5 321.2,510.3C321.9,510.1 322.7,511.6 323.5,512.3C324.3,513.0 325.1,514.3 325.9,514.3C326.7,514.3 327.4,513.0 328.2,512.3C329.0,511.6 329.8,511.1 330.6,510.3C331.4,509.5 332.1,507.7 332.9,507.3C333.7,506.9 334.4,507.3 335.2,507.9C336.0,508.5 336.8,509.8 337.6,510.8C338.4,511.8 339.1,512.8 339.9,513.8C340.7,514.8 341.4,515.8 342.2,516.7C343.0,517.6 343.8,518.8 344.6,519.0C345.4,519.2 346.1,518.4 346.9,518.1C347.7,517.8 348.4,517.6 349.2,517.3C350.0,517.0 350.8,517.2 351.6,516.1C352.4,515.0 353.1,512.4 353.9,510.8C354.7,509.2 355.5,507.5 356.3,506.5C357.1,505.5 357.9,505.5 358.7,505.0C359.5,504.5 360.2,504.1 361.0,503.5C361.8,502.9 362.6,502.0 363.3,501.5C364.0,501.0 364.5,500.3 365.1,500.6C365.7,500.9 366.1,501.9 366.8,503.5C367.5,505.1 368.4,509.0 369.2,510.3C370.0,511.6 370.7,511.4 371.5,511.4C372.3,511.4 373.1,510.8 373.9,510.3C374.7,509.8 375.4,508.6 376.2,508.5C377.0,508.4 377.7,508.8 378.5,509.4C379.3,510.0 380.1,511.2 380.9,512.3C381.7,513.4 382.4,515.0 383.2,516.1C384.0,517.2 384.7,518.4 385.5,519.0C386.3,519.6 387.1,519.9 387.9,519.6C388.7,519.3 389.4,517.9 390.2,517.3C391.0,516.7 391.7,515.7 392.5,516.1C393.3,516.5 394.1,518.4 394.9,519.6C395.7,520.8 396.4,522.1 397.2,523.1C398.0,524.1 398.7,524.6 399.5,525.4C400.3,526.2 401.1,527.8 401.9,527.8C402.7,527.8 403.4,526.8 404.2,525.4C405.0,524.0 405.8,521.3 406.6,519.6C407.4,517.9 408.1,516.1 408.9,515.2C409.7,514.3 410.4,514.0 411.2,514.3C412.0,514.5 412.8,515.6 413.6,516.7C414.4,517.8 415.1,519.6 415.9,521.1C416.7,522.6 417.4,524.5 418.2,526.0C419.0,527.5 419.8,528.8 420.6,529.8C421.4,530.8 422.1,531.0 422.9,531.8C423.7,532.6 424.4,533.7 425.2,534.8C426.0,535.9 426.8,537.5 427.6,538.6C428.4,539.7 429.2,541.9 429.9,541.5C430.6,541.1 431.1,538.0 431.7,536.5C432.3,535.0 432.8,533.0 433.4,532.7C434.0,532.4 434.5,533.7 435.2,534.8C435.9,535.9 436.7,538.9 437.5,539.4C438.3,539.9 439.0,538.1 439.8,537.7C440.6,537.3 441.4,537.0 442.2,537.1C443.0,537.2 443.7,538.6 444.5,538.6C445.3,538.6 446.0,538.3 446.8,537.1C447.6,535.9 448.4,533.7 449.2,531.3C450.0,528.9 450.7,525.0 451.5,522.5C452.3,520.0 453.1,517.5 453.9,516.1C454.7,514.7 455.4,514.4 456.2,514.3C457.0,514.1 457.7,514.2 458.5,515.2C459.3,516.2 460.1,518.2 460.9,520.2C461.7,522.2 462.4,524.8 463.2,526.9C464.0,529.0 464.7,531.4 465.5,532.7C466.3,534.0 467.1,534.1 467.9,534.8C468.7,535.5 469.4,535.8 470.2,537.1C471.0,538.5 471.7,541.2 472.5,542.9C473.3,544.6 474.1,546.1 474.9,547.3C475.7,548.5 476.4,549.4 477.2,550.2C478.0,551.0 478.8,551.1 479.6,552.3C480.4,553.5 481.1,555.8 481.9,557.5C482.7,559.2 483.4,560.8 484.2,562.8C485.0,564.8 485.8,567.3 486.6,569.2C487.4,571.1 488.1,573.3 488.9,574.4C489.7,575.5 490.4,575.4 491.2,575.6C492.0,575.8 492.8,575.3 493.6,575.6C494.4,575.9 495.1,576.8 495.9,577.4C496.7,578.0 497.4,578.8 498.2,579.4C499.0,580.0 499.8,580.6 500.6,580.9C501.4,581.2 502.2,581.9 502.9,581.4C503.6,580.9 504.1,579.9 504.7,577.9C505.3,575.9 505.8,572.1 506.4,569.2C507.0,566.3 507.6,562.7 508.2,560.4C508.8,558.1 509.2,556.3 509.9,555.2C510.6,554.1 511.5,554.2 512.3,554.0C513.1,553.8 513.9,554.5 514.7,554.0C515.5,553.5 516.2,552.4 517.0,551.1C517.8,549.8 518.5,547.7 519.3,546.4C520.1,545.1 520.9,544.7 521.7,543.5C522.5,542.3 523.2,541.2 524.0,539.4C524.8,537.6 525.6,535.0 526.4,532.7C527.2,530.4 527.9,527.8 528.7,525.4C529.5,523.0 530.2,520.3 531.0,518.1C531.8,515.9 532.7,513.5 533.4,512.3C534.1,511.1 534.5,510.6 535.1,510.8C535.7,511.0 536.2,511.5 536.9,513.2C537.6,514.9 538.4,518.8 539.2,521.1C540.0,523.4 540.7,525.3 541.5,526.9C542.3,528.5 543.1,529.9 543.9,530.7C544.7,531.5 545.4,531.5 546.2,531.8C547.0,532.1 547.7,532.2 548.5,532.7C549.3,533.2 550.1,534.4 550.9,534.8C551.7,535.1 552.4,535.4 553.2,534.8C554.0,534.2 554.7,532.3 555.5,531.3C556.3,530.3 557.1,529.8 557.9,528.9C558.7,528.0 559.4,527.0 560.2,526.0C561.0,525.0 561.8,523.4 562.6,523.1C563.4,522.8 564.1,523.0 564.9,524.0C565.7,525.0 566.4,526.8 567.2,528.9C568.0,531.0 568.8,534.3 569.6,536.5C570.4,538.7 571.1,541.7 571.9,542.3C572.7,542.9 573.4,540.9 574.2,540.0C575.0,539.1 575.8,537.3 576.6,537.1C577.4,536.9 578.1,538.2 578.9,538.6C579.7,539.0 580.4,539.3 581.2,539.4C582.0,539.5 582.8,539.0 583.6,539.4C584.4,539.8 585.2,541.0 585.9,541.5C586.6,542.0 587.1,543.0 587.7,542.3C588.3,541.6 588.7,539.2 589.4,537.1C590.1,535.0 591.0,531.8 591.8,529.8C592.6,527.8 593.3,526.5 594.1,525.4C594.9,524.3 595.6,523.8 596.4,523.1C597.2,522.4 598.0,522.4 598.8,521.1C599.6,519.8 600.3,517.0 601.1,515.2C601.9,513.4 602.7,511.3 603.4,510.3C604.1,509.3 604.6,509.1 605.2,509.4C605.8,509.7 606.2,511.0 606.9,512.3C607.6,513.6 608.5,516.2 609.3,517.3C610.1,518.4 610.8,518.2 611.6,519.0C612.4,519.8 613.1,520.8 613.9,521.9C614.7,523.0 615.5,524.6 616.3,525.4C617.1,526.2 617.8,527.1 618.6,526.9C619.4,526.7 620.1,525.3 620.9,524.0C621.7,522.7 622.5,520.1 623.3,519.0C624.1,517.9 624.8,517.1 625.6,517.3C626.4,517.5 627.2,519.2 628.0,520.2C628.8,521.2 629.5,522.1 630.3,523.1C631.1,524.1 631.8,524.9 632.6,526.0C633.4,527.1 634.2,528.7 635.0,529.8C635.8,530.9 636.5,532.4 637.3,532.7C638.1,533.0 638.8,532.3 639.6,531.8C640.4,531.3 641.2,529.6 642.0,529.8C642.8,529.9 643.5,531.2 644.3,532.7C645.1,534.2 645.8,537.3 646.6,538.6C647.4,539.9 648.2,540.8 649.0,540.6C649.8,540.5 650.5,538.5 651.3,537.7C652.1,536.9 652.9,535.2 653.6,535.6C654.3,536.0 654.8,537.9 655.4,540.0C656.0,542.1 656.6,545.8 657.2,548.2C657.8,550.6 658.2,553.4 658.9,554.6C659.6,555.8 660.5,555.1 661.2,555.2C661.9,555.3 662.7,555.2 663.0,555.2" fill="none" stroke="#FF0000" stroke-width="2.3" stroke-linejoin="round" stroke-linecap="round"/>
<line x1="304.1" y1="741.9" x2="316.6" y2="741.9" stroke="#0072BD" stroke-width="2.3"/>
<line x1="304.1" y1="753.2" x2="316.6" y2="753.2" stroke="#FF0000" stroke-width="2.3"/>
<text x="317.3" y="745.60" class="lg">Reference Wafer</text>
<text x="317.3" y="757.20" class="lg">Graphene Wafer</text>
<text x="354.7" y="819.3" text-anchor="middle" class="ax" style="font-size:19.3px">Frequency (GHz)</text>
<text x="353.65" y="851.0" text-anchor="middle" class="ax" style="font-size:21.6px">(b)</text>
<text transform="translate(15.4,618.2) rotate(-90)" text-anchor="middle" class="ax" style="font-size:19px">S<tspan style="font-size:15.5px" dy="9">21</tspan><tspan dy="-9"> (dB)</tspan></text>
</svg>
</body></html>
